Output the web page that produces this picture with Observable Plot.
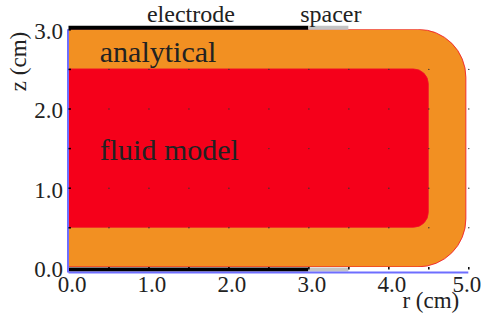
<!DOCTYPE html>
<html>
<head>
<meta charset="utf-8">
<script src="https://cdn.jsdelivr.net/npm/d3@7"></script>
<script src="https://cdn.jsdelivr.net/npm/@observablehq/plot@0.6"></script>
<style>
  html, body { margin: 0; padding: 0; background: #fff; }
</style>
</head>
<body>
<div id="chart"></div>
<script>
// Regions (r and z extents in cm)
const regionNames = ["analytical", "fluid model"];
const regionR = [4.97, 4.5];
const regionZ1 = [0, 0.5];
const regionZ2 = [3.0, 2.5];
const regionColors = ["#f29022", "#f5001a"];
const regionCorner = [48, 15];
const labelR = [0.385, 0.385];
const labelZ = [2.71, 1.48];

// Boundary pieces (r extents in cm)
const partNames = ["electrode", "spacer"];
const partR1 = [0.0, 3.0];
const partR2 = [3.0, 3.5];
const partColors = ["#000000", "#c4c4c4"];

// Axes
const xTicks = [0, 1, 2, 3, 4, 5];
const yTicks = [0, 1, 2, 3];
const gridR = [0.5, 1, 1.5, 2, 2.5, 3, 3.5, 4, 4.5, 5];
const gridZ = [0.5, 1, 1.5, 2, 2.5];
const xLabel = "r (cm)";
const yLabel = "z (cm)";

const serif = "Liberation Serif";
const ink = "#222";
const regions = regionNames.map((n, i) => ({name: n, r2: regionR[i], z1: regionZ1[i], z2: regionZ2[i], color: regionColors[i], lr: labelR[i], lz: labelZ[i]}));
const parts = partNames.map((n, i) => ({name: n, r1: partR1[i], r2: partR2[i], color: partColors[i]}));
const grid = gridR.flatMap(r => gridZ.map(z => ({r, z})));
const yTickMarks = gridZ.concat([3]);
const xLast = xTicks[xTicks.length - 1];

const blue = "#6e6eff";
const fmt = d => d.toFixed(1);

const rectMark = (i) => Plot.rect([regions[i]], {
  x1: -1, x2: "r2", y1: "z1", y2: "z2",
  fill: "color", stroke: "#f0102a", strokeWidth: 0.8,
  rx: regionCorner[i], clip: true
});

const chart = Plot.plot({
  width: 483,
  height: 313,
  marginLeft: 68.5,
  marginRight: 14.7,
  marginTop: 29.3,
  marginBottom: 46.1,
  x: {type: "linear", domain: [0, 5], axis: null},
  y: {type: "linear", domain: [0, 3], axis: null},
  color: {type: "identity"},
  style: {fontFamily: serif, color: ink, background: "#fff"},
  marks: [
    rectMark(0),
    rectMark(1),
    Plot.dot(grid, {x: "r", y: "z", r: 0.7, fill: "#333", stroke: null}),
    // electrode/spacer at top
    Plot.ruleY(parts, {y: 3, x1: "r1", x2: "r2", stroke: "color", strokeWidth: 4, dy: -2}),
    // electrode/spacer at bottom
    Plot.ruleY(parts, {y: 0, x1: "r1", x2: "r2", stroke: "color", strokeWidth: 4, dy: 2}),
    // blue axis lines
    Plot.ruleY([0], {x1: 0, x2: 5, stroke: blue, strokeWidth: 2, dy: 5}),
    Plot.ruleX([0], {y1: -0.07, y2: 3, stroke: blue, strokeWidth: 2, dx: -1}),
    // small tick marks on the axes
    Plot.ruleX(gridR, {x: d => d, y1: 0, y2: 0.03, stroke: "#000", strokeWidth: 1.5, dy: 2.5}),
    Plot.ruleY(yTickMarks, {y: d => d, x1: 0, x2: 0.03, stroke: "#000", strokeWidth: 1.5}),
    // tick labels
    Plot.text(xTicks.filter(d => d !== xLast), {x: d => d, y: 0, text: fmt, fontSize: 23, fontFamily: serif, fill: ink, dy: 17, dx: 3}),
    Plot.text([xLast], {x: d => d, y: 0, text: fmt, fontSize: 23, fontFamily: serif, fill: ink, dy: 17, dx: -2}),
    Plot.text(yTicks, {x: 0, y: d => d, text: fmt, fontSize: 23, fontFamily: serif, fill: ink, textAnchor: "end", dx: -6, dy: 2}),
    // axis labels
    Plot.text([xLabel], {x: 4.17, y: 0, text: d => d, fontSize: 23, fontFamily: serif, fill: ink, textAnchor: "start", dy: 33}),
    Plot.text([yLabel], {x: 0, y: 2.6, text: d => d, fontSize: 23, fontFamily: serif, fill: ink, rotate: -90, dx: -50}),
    // region labels
    Plot.text(regions, {x: "lr", y: "lz", text: "name", fontSize: 30, fontFamily: serif, textAnchor: "start", fill: ink}),
    // part labels
    Plot.text(parts, {x: d => (d.r1 + d.r2) / 2, y: 3, text: "name", fontSize: 24, fontFamily: serif, fill: ink, dy: -15, dx: 2})
  ]
});
document.getElementById("chart").appendChild(chart);
</script>
</body>
</html>
